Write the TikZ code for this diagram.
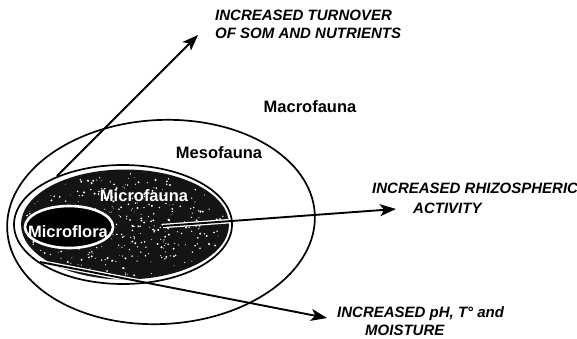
\documentclass[tikz,border=0pt]{standalone}
\usepackage{fontspec}
\setmainfont{Liberation Sans}
\usetikzlibrary{arrows.meta}
\begin{document}
\begin{tikzpicture}[x=1pt,y=-1pt,
  ring/.style={draw=black,line width=1.7pt},
  arr/.style={line width=1.9pt,-{Stealth[length=16pt,width=12pt,inset=4pt]}},
  halo/.style={draw=white,line width=4.5pt},
  zone/.style={font=\fontsize{16.5}{19}\selectfont\bfseries,inner sep=0pt},
  inzone/.style={zone,text=white},
  effect/.style={font=\fontsize{15}{18}\selectfont\bfseries\itshape,inner sep=0pt,anchor=base west}]
\useasboundingbox (0,0) rectangle (577,338);
% Mesofauna ellipse
\draw[ring] (161,222) ellipse [x radius=154, y radius=102, rotate=3];
% Microfauna ellipse
\draw[ring] (123,224.5) ellipse [x radius=109, y radius=59.5];
\fill[black!92] (125,224.5) ellipse [x radius=104, y radius=55];
\pgfmathsetseed{42}
\foreach \i in {1,...,340}{
  \pgfmathsetmacro{\rr}{sqrt(rnd)}
  \pgfmathsetmacro{\aa}{360*rnd}
  \pgfmathsetmacro{\px}{125+100*\rr*cos(\aa)}
  \pgfmathsetmacro{\py}{224.5+51*\rr*sin(\aa)}
  \pgfmathsetmacro{\rd}{0.35+0.8*rnd}
  \fill[white] (\px,\py) circle [radius=\rd];
}
% Microflora ellipse
\filldraw[fill=black,draw=white,line width=2.6pt] (69,227) ellipse [x radius=44, y radius=21];
% arrow end points
\coordinate (s1) at (57,176);
\coordinate (t1) at (198,35);
\coordinate (s2) at (163,226);
\coordinate (t2) at (396,209);
\coordinate (s3) at (40,262);
\coordinate (t3) at (327,318);
% white halo of the arrows inside the dark area
\begin{scope}
  \clip (125,224.5) ellipse [x radius=104, y radius=55];
  \draw[halo] (s2) -- (t2);
  \draw[halo] (s3) -- (t3);
\end{scope}
\draw[arr] (s1) -- (t1);
\draw[arr] (s2) -- (t2);
\draw[arr] (s3) -- (t3);
% zone labels
\node[zone] (macro) at (310,107) {Macrofauna};
\node[zone] (meso) at (219,153) {Mesofauna};
\node[inzone] (mfauna) at (144,196) {Microfauna};
\node[inzone] (mflora) at (68,232) {Microflora};
% effect labels
\node[effect] (e1a) at (215,20.4) {INCREASED TURNOVER};
\node[effect] (e1b) at (215,38.4) {OF SOM AND NUTRIENTS};
\node[effect] (e2a) at (372,193.4) {INCREASED RHIZOSPHERIC};
\node[effect] (e2b) at (413,213.4) {ACTIVITY};
\node[effect] (e3a) at (337,317.4) {INCREASED pH, T° and};
\node[effect] (e3b) at (365,335.4) {MOISTURE};
\end{tikzpicture}
\end{document}
